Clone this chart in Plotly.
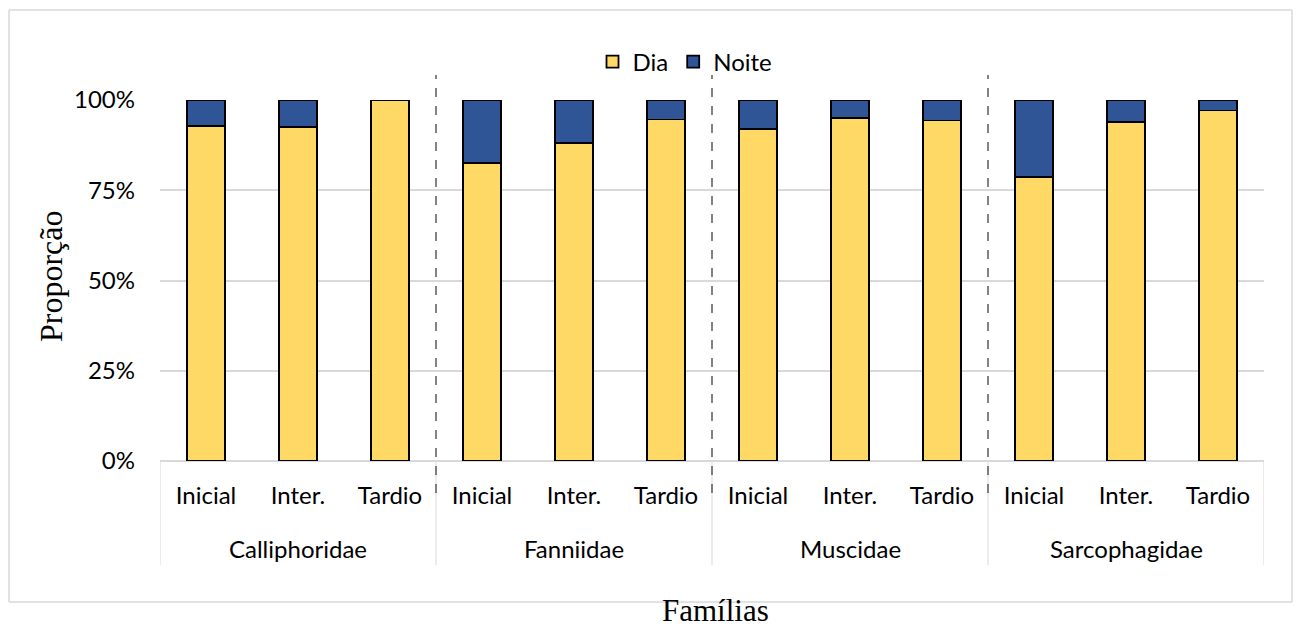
import plotly.graph_objects as go

families = ["Calliphoridae", "Fanniidae", "Muscidae", "Sarcophagidae"]
stages = ["Inicial", "Inter.", "Tardio"]
dia = [92.8, 92.5, 100.0, 82.5, 88.0, 94.6, 91.9, 95.1, 94.3, 78.7, 93.8, 97.1]
noite = [7.2, 7.5, 0.0, 17.5, 12.0, 5.4, 8.1, 4.9, 5.7, 21.3, 6.2, 2.9]
y_ticks = [0, 25, 50, 75, 100]
y_ticktext = ["0%", "25%", "50%", "75%", "100%"]

n = len(dia)
xpos = list(range(n))
stage_labels = [stages[i % 3] for i in range(n)]

FONT = "Lato"
FS = 24
# page body has an 8px margin; plot area on screen spans x 160..1264, y 100..461
OFF = 8
PL, PT, PW, PH = 160 - OFF, 100 - OFF, 1104, 361
W, H = 1301, 628


def px(xs):
    return (xs - 160) / PW


def py(ys):
    return (461 - ys) / PH


fig = go.Figure()
fig.add_trace(go.Bar(x=xpos, y=dia, name="Dia", width=0.41,
                     marker=dict(color="#FFD966", line=dict(color="#000000", width=1.8))))
fig.add_trace(go.Bar(x=xpos, y=noite, name="Noite", width=0.41,
                     marker=dict(color="#2F5597", line=dict(color="#000000", width=1.8))))

shapes = []
BC = dict(color="#d9d9d9", width=1.5)
# outer chart border, drawn as four lines
for (xa, ya, xb, yb) in [(9, 10, 1292, 10), (9, 602, 1292, 602), (9, 10, 9, 602), (1292, 10, 1292, 602)]:
    shapes.append(dict(type="line", xref="paper", yref="paper",
                       x0=px(xa), x1=px(xb), y0=py(ya), y1=py(yb), line=BC, layer="below"))
for b in [-0.5, 2.5, 5.5, 8.5, 11.5]:
    shapes.append(dict(type="line", xref="x", yref="paper", x0=b, x1=b,
                       y0=0, y1=py(565), line=dict(color="#d9d9d9", width=1)))
for b in [2.5, 5.5, 8.5]:
    shapes.append(dict(type="line", xref="x", yref="paper", x0=b, x1=b,
                       y0=py(493), y1=py(75),
                       line=dict(color="#595959", width=1.5, dash="dash")))

annotations = []
for i, f in enumerate(families):
    annotations.append(dict(x=3 * i + 1, xref="x", y=py(548), yref="paper",
                            text=f, showarrow=False, font=dict(family=FONT, size=FS, color="#000"),
                            xanchor="center", yanchor="middle"))
annotations.append(dict(x=px(51), xref="paper", y=py(276), yref="paper",
                        text="Proporção", textangle=-90, showarrow=False,
                        font=dict(family="Liberation Serif", size=32, color="#000"),
                        xanchor="center", yanchor="middle"))
annotations.append(dict(x=px(715), xref="paper", y=py(610), yref="paper",
                        text="Famílias", showarrow=False,
                        font=dict(family="Liberation Serif", size=31, color="#000"),
                        xanchor="center", yanchor="middle"))

fig.update_layout(
    barmode="stack",
    width=W, height=H,
    margin=dict(l=PL, r=W - PL - PW, t=PT, b=H - PT - PH, pad=0),
    paper_bgcolor="white", plot_bgcolor="white",
    font=dict(family=FONT, size=FS, color="#000"),
    showlegend=True,
    legend=dict(orientation="h", traceorder="normal",
                x=px(685), xanchor="center", y=py(62), yanchor="middle",
                font=dict(family=FONT, size=FS, color="#000"),
                itemwidth=30, bgcolor="rgba(0,0,0,0)"),
    shapes=shapes,
    annotations=annotations,
)
fig.update_xaxes(range=[-0.5, 11.5], tickvals=xpos, ticktext=stage_labels,
                 showgrid=False, zeroline=False, showline=False, ticks="",
                 ticklabelstandoff=18, tickfont=dict(family=FONT, size=FS, color="#000"))
fig.update_yaxes(range=[0, 100], tickvals=y_ticks, ticktext=y_ticktext,
                 showgrid=True, gridcolor="#d9d9d9", gridwidth=1.5,
                 zeroline=True, zerolinecolor="#d9d9d9", zerolinewidth=1.5,
                 showline=False, ticks="", ticklabelstandoff=24,
                 tickfont=dict(family=FONT, size=FS, color="#000"))

fig.write_html("out.html")
